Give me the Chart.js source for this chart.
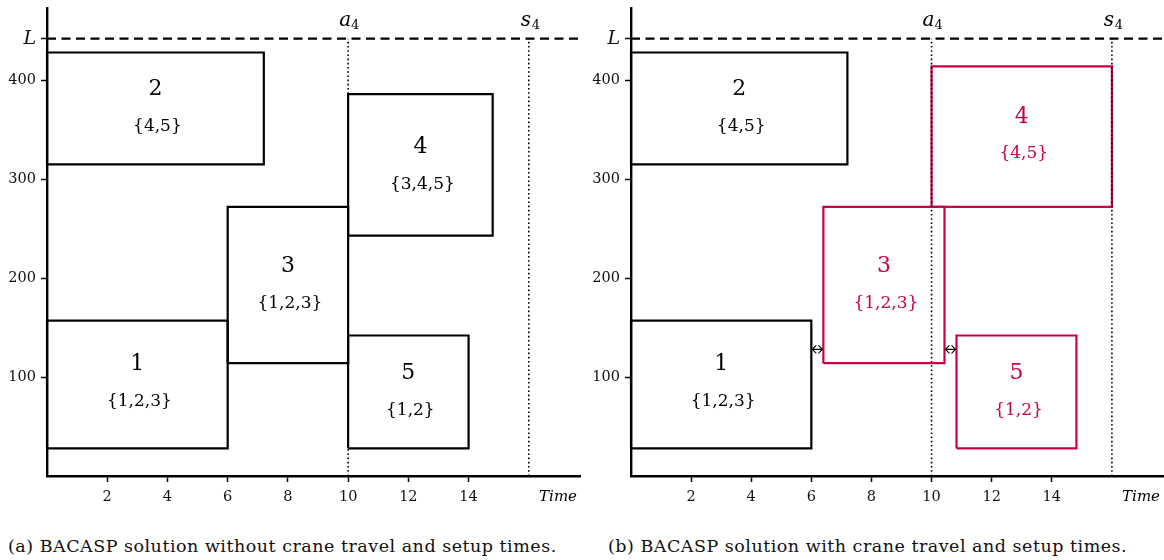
<!DOCTYPE html>
<html>
<head>
<meta charset="utf-8">
<script src="https://cdn.jsdelivr.net/npm/chart.js@4.4.1/dist/chart.umd.min.js"></script>
<style>
  html, body { margin: 0; padding: 0; background: #fff; }
  body { width: 1164px; height: 560px; position: relative; overflow: hidden; font-family: "DejaVu Serif", serif; }
  .wrap { position: absolute; top: 0; height: 525px; }
  #wa { left: 0; width: 582px; }
  #wb { left: 582px; width: 582px; }
  .cap { position: absolute; top: 536px; font-family: "DejaVu Serif", serif; font-size: 17.5px; letter-spacing: 0.5px; white-space: nowrap; color: #111; }
</style>
</head>
<body>
<div class="wrap" id="wa"><canvas id="ca" width="582" height="525"></canvas></div>
<div class="wrap" id="wb"><canvas id="cb" width="582" height="525"></canvas></div>
<div class="cap" id="capA" style="left:8px">(a) BACASP solution without crane travel and setup times.</div>
<div class="cap" id="capB" style="left:608px">(b) BACASP solution with crane travel and setup times.</div>
<script>
// ---------- data ----------
const xTicks = [2, 4, 6, 8, 10, 12, 14];
const yTicks = [100, 200, 300, 400];
const berthLength = 442;          // L
const arrivalA4 = 10;             // a_4
const dueS4 = 16;                 // s_4
const xMax = 17.7;
const yMax = 473;

// Panel (a): without travel/setup times
const idsA    = ['1', '2', '3', '4', '5'];
const setsA   = ['{1,2,3}', '{4,5}', '{1,2,3}', '{3,4,5}', '{1,2}'];
const startA  = [0, 0, 6, 10, 10];
const endA    = [6, 7.2, 10, 14.8, 14];
const lowA    = [28, 315, 114, 243, 28];
const highA   = [157, 428, 272, 386, 142];
const labelYA = [113, 391, 212, 332, 104];
const colorA  = ['k', 'k', 'k', 'k', 'k'];

// Panel (b): with travel/setup times
const idsB    = ['1', '2', '3', '4', '5'];
const setsB   = ['{1,2,3}', '{4,5}', '{1,2,3}', '{4,5}', '{1,2}'];
const startB  = [0, 0, 6.4, 10, 10.83];
const endB    = [6, 7.2, 10.43, 16, 14.82];
const lowB    = [28, 315, 114, 272, 28];
const highB   = [157, 428, 272, 414, 142];
const labelYB = [113, 391, 212, 363, 104];
const colorB  = ['k', 'k', 'r', 'r', 'r'];

// setup-time arrows in panel (b)
const arrowFromB = [6, 10.43];
const arrowToB   = [6.4, 10.83];
const arrowYB    = [128, 128];

const BLACK = '#000000';
const RED = '#c8004a';
const SERIF = '"DejaVu Serif", serif';

function boxDatasets(ids, start, end, low, high, color) {
  return ids.map((id, i) => ({
    label: 'Vessel ' + id,
    data: [
      {x: start[i], y: low[i]}, {x: end[i], y: low[i]},
      {x: end[i], y: high[i]}, {x: start[i], y: high[i]},
      {x: start[i], y: low[i]}
    ],
    showLine: true, fill: false, tension: 0,
    borderColor: color[i] === 'r' ? RED : BLACK,
    borderWidth: 2.2, pointRadius: 0, clip: false,
    borderJoinStyle: 'miter', order: 2
  }));
}

function refDatasets() {
  return [
    { label: 'L', data: [{x: 0, y: berthLength}, {x: xMax, y: berthLength}],
      showLine: true, borderColor: BLACK, borderWidth: 2.4, borderDash: [9, 5.5],
      pointRadius: 0, clip: false, order: 1 },
    { label: 'a4', data: [{x: arrivalA4, y: 0}, {x: arrivalA4, y: berthLength}],
      showLine: true, borderColor: '#000', borderWidth: 1.6, borderDash: [1.6, 2.6],
      pointRadius: 0, clip: false, order: 1 },
    { label: 's4', data: [{x: dueS4, y: 0}, {x: dueS4, y: berthLength}],
      showLine: true, borderColor: '#000', borderWidth: 1.6, borderDash: [1.6, 2.6],
      pointRadius: 0, clip: false, order: 1 }
  ];
}

function labelPlugin(ids, sets, start, end, labelY, color, arrows) {
  return {
    id: 'labels',
    afterDatasetsDraw(chart) {
      const {ctx, scales: {x, y}, chartArea} = chart;
      ctx.save();
      ctx.textAlign = 'center';
      ctx.textBaseline = 'middle';
      ids.forEach((id, i) => {
        const cx = x.getPixelForValue((start[i] + end[i]) / 2);
        const cy = y.getPixelForValue(labelY[i]);
        ctx.fillStyle = color[i] === 'r' ? RED : BLACK;
        ctx.font = '22px ' + SERIF;
        ctx.fillText(id, cx, cy);
        ctx.font = '17px ' + SERIF;
        ctx.fillText(sets[i], cx + 2, cy + 37);
      });
      // a4 / s4 labels
      ctx.fillStyle = BLACK;
      const topY = y.getPixelForValue(berthLength) - 18;
      [[arrivalA4, 'a'], [dueS4, 's']].forEach(([v, ch]) => {
        const px = x.getPixelForValue(v);
        ctx.font = 'italic 20px ' + SERIF;
        ctx.textAlign = 'center';
        ctx.fillText(ch, px - 3, topY);
        ctx.font = '13px ' + SERIF;
        ctx.fillText('4', px + 7, topY + 5);
      });
      // Time label
      ctx.font = 'italic 15px ' + SERIF;
      ctx.textAlign = 'right';
      ctx.fillText('Time', chartArea.right - 3, y.getPixelForValue(0) + 21);
      // arrows
      if (arrows) {
        ctx.strokeStyle = BLACK;
        ctx.lineWidth = 1.1;
        arrows.from.forEach((f, i) => {
          const x0 = x.getPixelForValue(f) + 1, x1 = x.getPixelForValue(arrows.to[i]) - 1;
          const py = y.getPixelForValue(arrows.y[i]);
          ctx.beginPath();
          ctx.moveTo(x0, py); ctx.lineTo(x1, py);
          ctx.moveTo(x0 + 4, py - 4); ctx.lineTo(x0, py); ctx.lineTo(x0 + 4, py + 4);
          ctx.moveTo(x1 - 4, py - 4); ctx.lineTo(x1, py); ctx.lineTo(x1 - 4, py + 4);
          ctx.stroke();
        });
      }
      ctx.restore();
    }
  };
}

function makeChart(canvasId, datasets, plugin, yAxisWidth, rightPad) {
  return new Chart(document.getElementById(canvasId), {
    type: 'scatter',
    data: { datasets },
    options: {
      responsive: false, animation: false,
      layout: { padding: { top: 8, right: rightPad, left: 0, bottom: 0 } },
      plugins: { legend: { display: false }, tooltip: { enabled: false } },
      scales: {
        x: {
          type: 'linear', min: 0, max: xMax,
          afterBuildTicks: (s) => { s.ticks = xTicks.map(v => ({value: v})); },
          afterFit: (s) => { s.height = 49; s.paddingLeft = 0; s.paddingRight = 0; },
          ticks: { color: '#111', font: { family: SERIF, size: 14.5 }, padding: 7,
                   maxRotation: 0, autoSkip: false },
          grid: { drawOnChartArea: false, drawTicks: true, tickLength: 6, tickWidth: 1.5, tickColor: BLACK },
          border: { display: true, color: BLACK, width: 2.4 }
        },
        y: {
          type: 'linear', min: 0, max: yMax,
          afterBuildTicks: (s) => { s.ticks = yTicks.concat([berthLength]).map(v => ({value: v})); },
          afterFit: (s) => { s.width = yAxisWidth; s.paddingTop = 0; s.paddingBottom = 0; },
          ticks: {
            color: '#111', padding: 5, autoSkip: false,
            callback: (v) => v === berthLength ? 'L' : String(v),
            font: (c) => c.tick && c.tick.value === berthLength
              ? { family: SERIF, size: 19, style: 'italic' }
              : { family: SERIF, size: 14.5 }
          },
          grid: { drawOnChartArea: false, drawTicks: true, tickLength: 6, tickWidth: 1.5, tickColor: BLACK },
          border: { display: true, color: BLACK, width: 2.4 }
        }
      }
    },
    plugins: [plugin]
  });
}

makeChart('ca',
  refDatasets().concat(boxDatasets(idsA, startA, endA, lowA, highA, colorA)),
  labelPlugin(idsA, setsA, startA, endA, labelYA, colorA, null), 47, 2);

makeChart('cb',
  refDatasets().concat(boxDatasets(idsB, startB, endB, lowB, highB, colorB)),
  labelPlugin(idsB, setsB, startB, endB, labelYB, colorB,
    {from: arrowFromB, to: arrowToB, y: arrowYB}), 49, 1);
</script>
</body>
</html>
